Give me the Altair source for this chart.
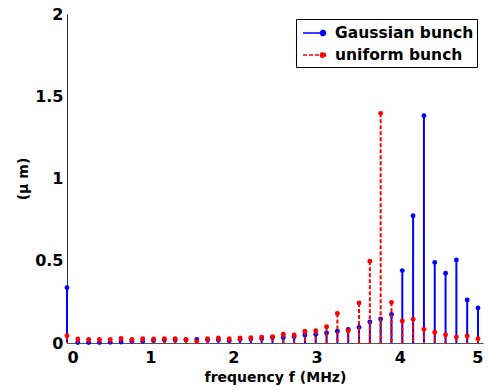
import altair as alt
import pandas as pd

step = 0.13
freq = [round(i * step, 3) for i in range(39)]

gaussian = [0.336, 0.003, 0.003, 0.003, 0.004, 0.006, 0.010, 0.010, 0.014, 0.018,
            0.018, 0.018, 0.022, 0.018, 0.018, 0.014, 0.022, 0.024, 0.026, 0.034,
            0.034, 0.038, 0.049, 0.053, 0.061, 0.071, 0.083, 0.095, 0.128, 0.146,
            0.174, 0.440, 0.774, 1.382, 0.490, 0.424, 0.505, 0.261, 0.213]

uniform = [0.044, 0.024, 0.022, 0.022, 0.022, 0.028, 0.022, 0.026, 0.024, 0.026,
           0.026, 0.022, 0.010, 0.026, 0.030, 0.026, 0.030, 0.032, 0.036, 0.038,
           0.053, 0.049, 0.071, 0.075, 0.099, 0.180, 0.075, 0.243, 0.497, 1.396,
           0.247, 0.134, 0.144, 0.083, 0.065, 0.050, 0.036, 0.043, 0.026]

series_names = ["Gaussian bunch", "uniform bunch"]
series_colors = ["#0000ff", "#ff0000"]

rows = []
for f, g in zip(freq, gaussian):
    rows.append({"f": f, "v": g, "series": series_names[0], "o": 0})
for f, u in zip(freq, uniform):
    rows.append({"f": f, "v": u, "series": series_names[1], "o": 1})
df = pd.DataFrame(rows)

FONT = "DejaVu Sans"

legend = alt.Legend(
    title=None,
    orient="none",
    legendX=229,
    legendY=5,
    symbolType="M-0.7,0H1.3M1.05,0A0.25,0.25 0 1,0 1.55,0A0.25,0.25 0 1,0 1.05,0Z",
    symbolSize=400,
    symbolStrokeWidth=1.5,
    labelFont=FONT,
    labelFontWeight="bold",
    labelFontSize=15.5,
    labelColor="black",
    labelOffset=14,
    rowPadding=2,
    padding=3,
    strokeColor="black",
    fillColor="white",
    cornerRadius=0,
)

color = alt.Color("series:N", scale=alt.Scale(domain=series_names, range=series_colors), legend=legend)

x = alt.X(
    "f:Q",
    scale=alt.Scale(domain=[0, 5], nice=False),
    axis=alt.Axis(
        title="frequency f (MHz)",
        values=[0, 1, 2, 3, 4, 5],
        format="~g",
        grid=False,
        ticks=False,
        labelPadding=6,
        titlePadding=5,
        domainColor="#555555",
    ),
)
y = alt.Y(
    "v:Q",
    scale=alt.Scale(domain=[0, 2], nice=False),
    axis=alt.Axis(
        title="(μ m)",
        values=[0, 0.5, 1, 1.5, 2],
        format="~g",
        grid=False,
        ticks=False,
        labelPadding=4,
        titlePadding=4,
        domainColor="#333333",
    ),
)

base = alt.Chart(df)
blue = base.transform_filter(alt.datum.o == 0)
red = base.transform_filter(alt.datum.o == 1)

stem_dash = alt.StrokeDash(
    "series:N",
    scale=alt.Scale(domain=series_names, range=[[1, 0], [4, 2]]),
    legend=legend,
)

blue_stems = blue.mark_rule(strokeWidth=2).encode(x=x, y=y, y2=alt.datum(0), color=color, strokeDash=stem_dash)
blue_pts = blue.mark_circle(size=24, opacity=1).encode(x=x, y=y, color=color)
red_stems = red.mark_rule(strokeWidth=2).encode(x=x, y=y, y2=alt.datum(0), color=color, strokeDash=stem_dash)
red_pts = red.mark_circle(size=24, opacity=1).encode(x=x, y=y, color=color)

chart = alt.layer(blue_stems, blue_pts, red_stems, red_pts).properties(
    width=416,
    height=329,
    autosize=alt.AutoSizeParams(type="none"),
    padding={"left": 67, "top": 14, "right": 8, "bottom": 47},
    background="white",
).configure_view(stroke=None).configure_axis(
    labelFont=FONT,
    labelFontWeight="bold",
    labelFontSize=16,
    labelColor="black",
    titleFont=FONT,
    titleFontWeight="bold",
    titleFontSize=14,
    titleColor="black",
    domainWidth=1,
)

chart.save("out.html", embed_options={"renderer": "svg", "actions": False})
